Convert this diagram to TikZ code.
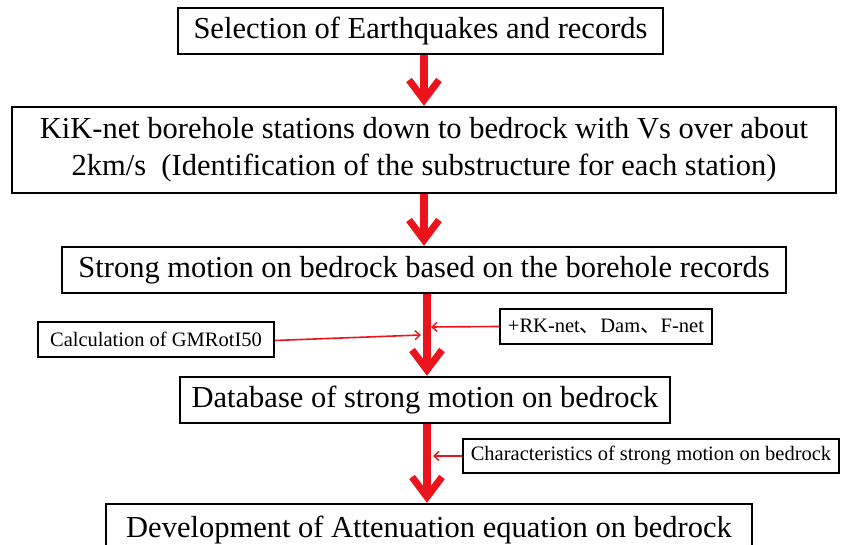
\documentclass[tikz,border=0pt]{standalone}
\usepackage{fontspec}
\setmainfont{Liberation Serif}
\newfontfamily\cjk{Noto Sans CJK SC}
\usetikzlibrary{arrows.meta}
\definecolor{arrred}{RGB}{236,20,28}
\tikzset{
  mainbox/.style={draw=black, line width=2.4pt, inner sep=0pt, font=\fontsize{30.5}{37}\selectfont, align=center},
  sidebox/.style={draw=black, line width=2pt, inner sep=0pt, font=\fontsize{20.5}{24}\selectfont},
  bigarrow/.style={draw=arrred, line width=7.5pt, -{Straight Barb[length=20pt,width=30pt,line width=7pt]}},
  smallarrow/.style={draw=arrred, line width=1.6pt, -{Straight Barb[length=5pt,width=9pt,line width=1.4pt]}}
}
\begin{document}
\begin{tikzpicture}[x=1pt,y=1pt]
\fill[white] (0,0) rectangle (841,545);
\clip (0,0) rectangle (841,545);
\node[mainbox, minimum width=485pt, minimum height=46pt] (b1) at (420.5,514) {Selection of Earthquakes and records};
\node[mainbox, minimum width=824pt, minimum height=86pt] (b2) at (424,395) {KiK-net borehole stations down to bedrock with Vs over about\\2km/s\ \ (Identification of the substructure for each station)};
\node[mainbox, minimum width=724pt, minimum height=46pt] (b3) at (424,275) {Strong motion on bedrock based on the borehole records};
\node[mainbox, minimum width=490pt, minimum height=46pt] (b4) at (425,145) {Database of strong motion on bedrock};
\node[mainbox, minimum width=646pt, minimum height=52pt] (b5) at (429,15) {Development of Attenuation equation on bedrock};
\node[sidebox, minimum width=236pt, minimum height=35pt] (calc) at (156,205.5) {Calculation of GMRotI50};
\node[sidebox, minimum width=212pt, minimum height=35pt] (fnet) at (606,218.5) {+RK-net{\cjk 、}Dam{\cjk 、}F-net};
\node[sidebox, minimum width=376pt, minimum height=34pt] (chars) at (651,89) {Characteristics of strong motion on bedrock};
\coordinate (s1) at (424,0);
\coordinate (s3) at (427,0);
\draw[bigarrow] (b1.south -| s1) -- (b2.north -| s1);
\draw[bigarrow] (b2.south -| s1) -- (b3.north -| s1);
\draw[bigarrow] (b3.south -| s3) -- (b4.north -| s3);
\draw[bigarrow] (b4.south -| s3) -- (b5.north -| s3);
\coordinate (j1) at (421,210);
\coordinate (j2) at (431,218);
\coordinate (j3) at (433,89);
\draw[smallarrow] ([yshift=-1pt]calc.east) -- (j1);
\draw[smallarrow] (fnet.west) -- (j2);
\draw[smallarrow] (chars.west) -- (j3);
\end{tikzpicture}
\end{document}
